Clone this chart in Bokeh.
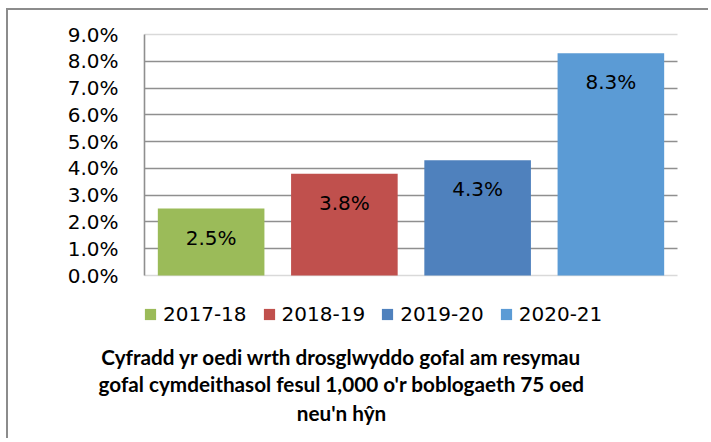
from bokeh.plotting import figure
from bokeh.models import (ColumnDataSource, Range1d, FixedTicker, LinearAxis,
                          NumeralTickFormatter, Grid, LabelSet, Label)
from bokeh.core.properties import value
from bokeh.embed import file_html
from bokeh.resources import INLINE

# ---- data ----
years = ["2017-18", "2018-19", "2019-20", "2020-21"]
rates = [0.025, 0.038, 0.043, 0.083]
colors = ["#9BBB59", "#C0504D", "#4F81BD", "#5B9BD5"]
y_ticks = [0.0, 0.01, 0.02, 0.03, 0.04, 0.05, 0.06, 0.07, 0.08, 0.09]
title_lines = [
    "Cyfradd yr oedi wrth drosglwyddo gofal am resymau",
    "gofal cymdeithasol fesul 1,000 o'r boblogaeth 75 oed",
    "neu'n hŷn",
]

src = ColumnDataSource(dict(
    pos=list(range(len(years))), cat=years, val=rates, color=colors,
    label=[f"{v * 100:.1f}%" for v in rates],
))

# frame covers the whole canvas; ranges set so plot area sits where the reference's does
W, H = 702, 430
px_per_x = 133.25
px_per_y = 2678.0
p = figure(width=W, height=H, output_backend="svg", toolbar_location=None,
           x_range=Range1d(-0.5 - 136 / px_per_x, -0.5 - 136 / px_per_x + W / px_per_x),
           y_range=Range1d(0.09 + 24 / px_per_y - H / px_per_y, 0.09 + 24 / px_per_y),
           x_axis_location=None, y_axis_location=None,
           min_border=0)
p.styles = {"border-left": "2px solid #8c8c8c", "border-top": "2px solid #8c8c8c",
            "margin-left": "6px", "margin-top": "8px"}
p.outline_line_color = None
p.background_fill_color = "white"
p.border_fill_color = "white"
p.xgrid.visible = False
p.ygrid.visible = False

# grids
p.add_layout(Grid(dimension=1, ticker=FixedTicker(ticks=y_ticks[1:-1]),
                  cross_bounds=(-0.5, 3.5),
                  grid_line_color="#8f8f8f", grid_line_width=1.6), "center")
p.add_layout(Grid(dimension=1, ticker=FixedTicker(ticks=[y_ticks[0], y_ticks[-1]]),
                  cross_bounds=(-0.5, 3.5),
                  grid_line_color="#d9d9d9", grid_line_width=1.6), "center")

yax = LinearAxis(ticker=FixedTicker(ticks=y_ticks),
                 formatter=NumeralTickFormatter(format="0.0%"),
                 fixed_location=-0.5, bounds=(0, 0.09))
yax.major_tick_line_color = None
yax.minor_tick_line_color = None
yax.major_tick_out = 0
yax.major_tick_in = 0
yax.axis_line_color = "#8f8f8f"
yax.axis_line_width = 1.6
yax.major_label_text_font = "DejaVu Sans"
yax.major_label_text_font_size = "20px"
yax.major_label_text_color = "#000000"
yax.major_label_standoff = 26
p.add_layout(yax, "left")

p.vbar(x="pos", top="val", width=0.8, source=src, color="color",
       line_color=None, legend_field="cat")

p.add_layout(LabelSet(x="pos", y="val", text="label", source=src,
                      y_offset=-29, text_align="center", text_baseline="middle",
                      text_font=value("DejaVu Sans"), text_font_size=value("20px"),
                      text_color="#000000"))

leg = p.legend[0]
leg.orientation = "horizontal"
leg.location = (135, 116 - (432 - H))
leg.border_line_color = None
leg.background_fill_alpha = 0
leg.padding = 0
leg.margin = 0
leg.spacing = 15
leg.glyph_width = 14
leg.glyph_height = 14
leg.label_standoff = 6
leg.label_text_font = "DejaVu Sans"
leg.label_text_font_size = "20px"
leg.label_text_color = "#000000"

for i, (line, yb) in enumerate(zip(title_lines, [86, 59, 30])):
    p.add_layout(Label(x=333, y=yb - (432 - H), x_units="screen", y_units="screen",
                       text=line, text_align="center", text_baseline="alphabetic",
                       text_font="Lato", text_font_style="bold",
                       text_font_size="20.7px", text_color="#000000"))

open("out.html", "w").write(file_html(p, INLINE))
